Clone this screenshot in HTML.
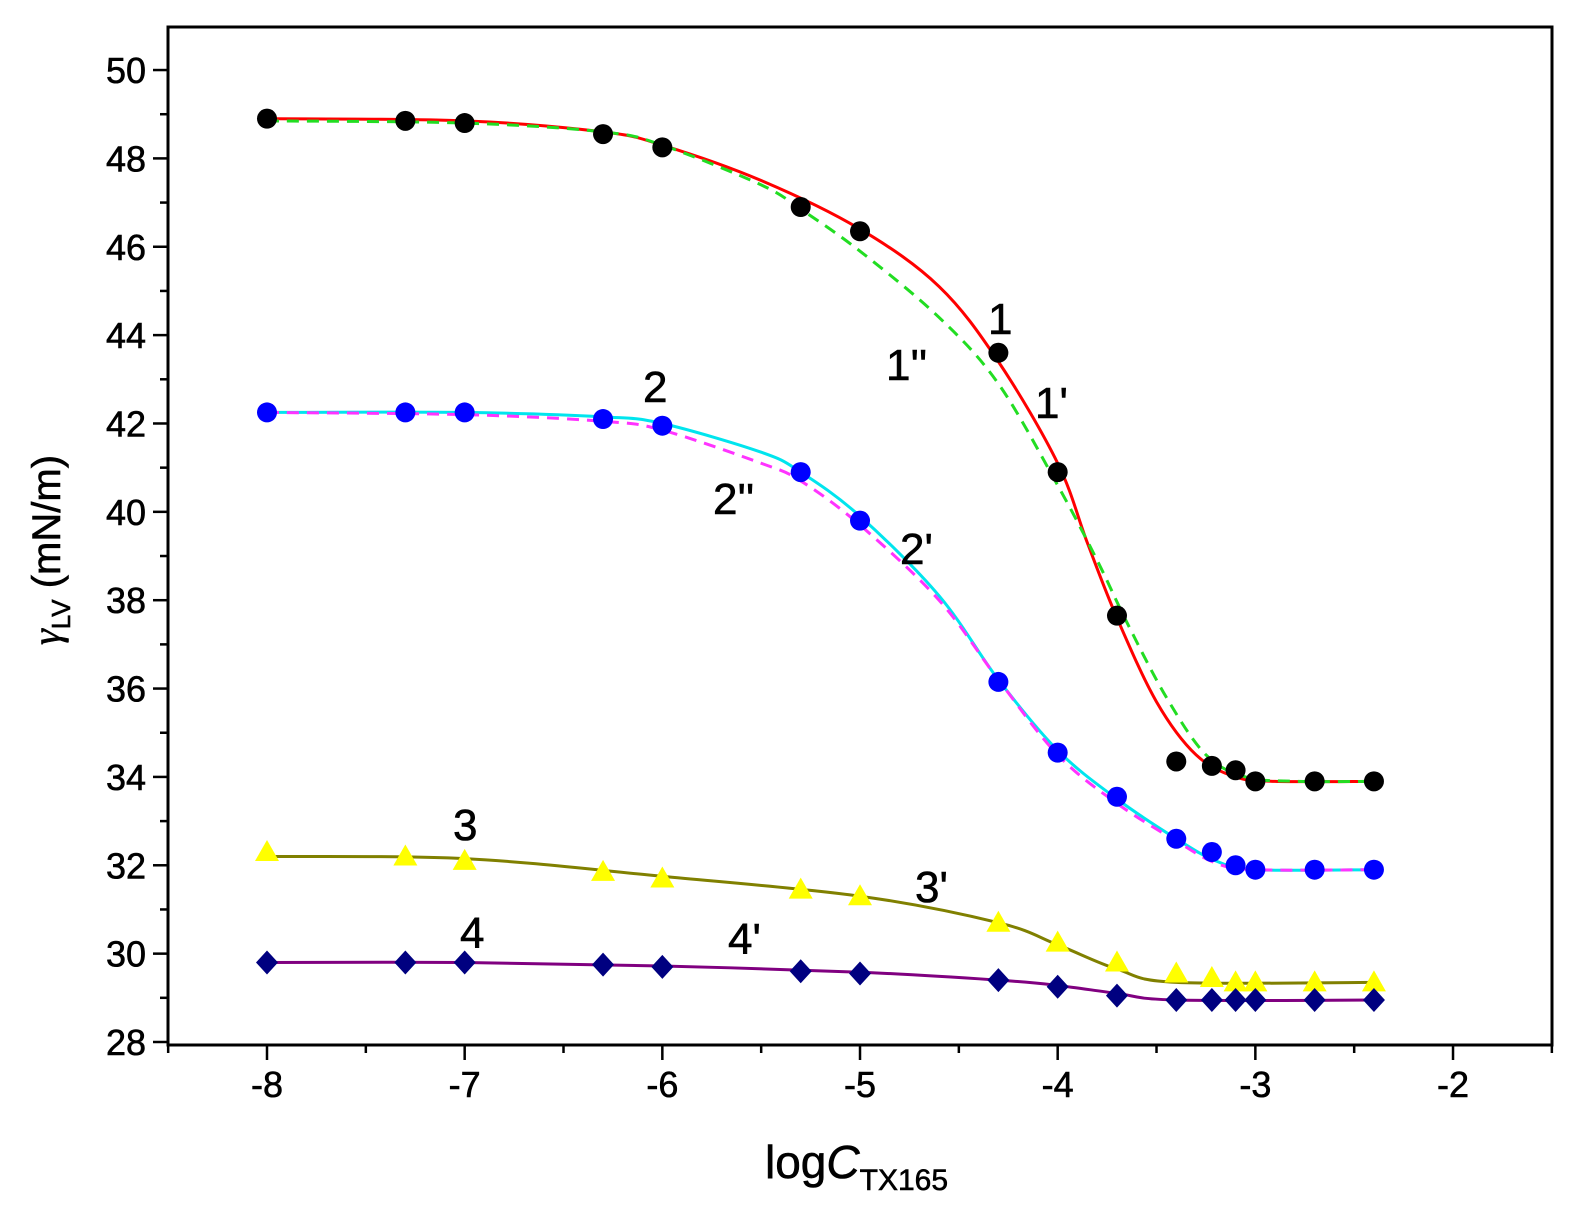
<!DOCTYPE html>
<html><head><meta charset="utf-8"><style>
body{margin:0;background:#fff;}
svg{display:block;font-family:"Liberation Sans",Arial,sans-serif;}
</style></head><body>
<svg id="s" width="1595" height="1230" xmlns="http://www.w3.org/2000/svg">
<rect x="0" y="0" width="1595" height="1230" fill="#fff"/>
<g id="curves"></g>
<g id="marks"></g>
<rect x="168" y="27" width="1384" height="1018" fill="none" stroke="#000" stroke-width="3"/>
<g id="ticks" stroke="#000" stroke-width="2.5"></g>
<g id="tl" font-size="36" fill="#000" stroke="#000" stroke-width="0.6"></g>
<g font-size="44" fill="#000" stroke="#000" stroke-width="0.6">
<text x="988" y="334">1</text>
<text x="886" y="380">1''</text>
<text x="1035" y="418">1'</text>
<text x="643" y="402">2</text>
<text x="713" y="514">2''</text>
<text x="900" y="564">2'</text>
<text x="453" y="840">3</text>
<text x="915" y="902">3'</text>
<text x="460" y="948">4</text>
<text x="728" y="954">4'</text>
</g>
<text x="765" y="1178" font-size="46" stroke="#000" stroke-width="0.6">log<tspan font-style="italic">C</tspan><tspan font-size="30" dy="12">TX165</tspan></text>
<g transform="translate(60,550) rotate(-90)"><text x="0" y="0" text-anchor="middle" font-size="40" stroke="#000" stroke-width="0.6"><tspan font-family="Liberation Serif" font-style="italic">γ</tspan><tspan font-size="26" dy="10">LV</tspan><tspan dy="-10"> (mN/m)</tspan></text></g>
</svg>
<script>
const NS="http://www.w3.org/2000/svg";
const X=v=>267+(v+8)*197.67, Y=v=>1042-(v-28)*44.18;
function el(t,a,p){const e=document.createElementNS(NS,t);for(const k in a)e.setAttribute(k,a[k]);p.appendChild(e);return e;}
const tk=document.getElementById('ticks'),tl=document.getElementById('tl');
for(let v=-8.5;v<=-1.5;v+=0.5){const x=X(v);const maj=Number.isInteger(v);el('line',{x1:x,y1:1045,x2:x,y2:maj?1060:1053},tk);
 if(maj){const t=el('text',{x:x,y:1097,'text-anchor':'middle'},tl);t.textContent=v;}}
for(let v=28;v<=50;v++){const y=Y(v);const maj=v%2==0;el('line',{x1:168,y1:y,x2:maj?153:160,y2:y},tk);
 if(maj){const t=el('text',{x:146,y:y+13,'text-anchor':'end'},tl);t.textContent=v;}}
function path(pts,col,dash){let d='';const P=pts.map(p=>[X(p[0]),Y(p[1])]);
 d='M'+P[0][0]+','+P[0][1];
 for(let i=0;i<P.length-1;i++){const p0=P[Math.max(0,i-1)],p1=P[i],p2=P[i+1],p3=P[Math.min(P.length-1,i+2)];
 d+=` C${p1[0]+(p2[0]-p0[0])/6},${p1[1]+(p2[1]-p0[1])/6} ${p2[0]-(p3[0]-p1[0])/6},${p2[1]-(p3[1]-p1[1])/6} ${p2[0]},${p2[1]}`;}
 const a={d:d,fill:'none',stroke:col,'stroke-width':3};if(dash)a['stroke-dasharray']='12,8';el('path',a,document.getElementById('curves'));}
path([[-8,48.9],[-7,48.85],[-6.3,48.6],[-6,48.3],[-5.5,47.5],[-5,46.4],[-4.6,45.1],[-4.3,43.4],[-4,41.1],[-3.85,39.3],[-3.7,37.6],[-3.5,35.7],[-3.3,34.5],[-3.1,34.0],[-2.9,33.9],[-2.4,33.9]],'#ff0000');
path([[-8,48.85],[-7,48.8],[-6.3,48.6],[-6,48.3],[-5.5,47.4],[-5.3,46.85],[-5,45.9],[-4.6,44.4],[-4.3,42.9],[-4,40.6],[-3.8,38.9],[-3.65,37.5],[-3.45,35.8],[-3.25,34.5],[-3.05,34.0],[-2.8,33.9],[-2.4,33.9]],'#22dd22',1);
path([[-8,42.25],[-7,42.25],[-6.3,42.15],[-6,42.0],[-5.5,41.35],[-5.3,40.9],[-5,39.9],[-4.6,38.1],[-4.3,36.2],[-4,34.6],[-3.7,33.5],[-3.4,32.6],[-3.2,32.1],[-3,31.9],[-2.4,31.9]],'#00e5ee');
path([[-8,42.25],[-7,42.2],[-6.3,42.05],[-6,41.85],[-5.5,41.1],[-5.3,40.7],[-5,39.7],[-4.6,38.0],[-4.3,36.2],[-4,34.5],[-3.7,33.4],[-3.4,32.55],[-3.2,32.05],[-3,31.9],[-2.4,31.9]],'#ff33ff',1);
path([[-8,32.2],[-7,32.15],[-6,31.75],[-5,31.3],[-4.3,30.7],[-4,30.2],[-3.7,29.65],[-3.4,29.35],[-2.4,29.35]],'#808000');
path([[-8,29.8],[-7,29.8],[-6,29.72],[-5,29.58],[-4.3,29.4],[-4,29.28],[-3.7,29.1],[-3.4,28.95],[-2.4,28.95]],'#800080');
const xs=[-8,-7.3,-7,-6.3,-6,-5.3,-5,-4.3,-4,-3.7,-3.4,-3.22,-3.1,-3,-2.7,-2.4];
const d1=[48.9,48.85,48.8,48.55,48.25,46.9,46.35,43.6,40.9,37.65,34.35,34.25,34.15,33.9,33.9,33.9];
const d2=[42.25,42.25,42.25,42.1,41.95,40.9,39.8,36.15,34.55,33.55,32.6,32.3,32.0,31.9,31.9,31.9];
const d3=[32.3,32.2,32.1,31.85,31.7,31.45,31.3,30.7,30.25,29.8,29.55,29.45,29.35,29.35,29.35,29.35];
const d4=[29.8,29.8,29.8,29.75,29.7,29.6,29.55,29.4,29.25,29.05,28.95,28.95,28.95,28.95,28.95,28.95];
const m=document.getElementById('marks');
xs.forEach((x,i)=>{const px=X(x);
 el('circle',{cx:px,cy:Y(d1[i]),r:10,fill:'#000'},m);
 el('circle',{cx:px,cy:Y(d2[i]),r:10,fill:'#0000ff'},m);
 let y=Y(d3[i]);el('polygon',{points:`${px},${y-12} ${px-12},${y+9} ${px+12},${y+9}`,fill:'#ffff00'},m);
 y=Y(d4[i]);el('polygon',{points:`${px},${y-12} ${px+11},${y} ${px},${y+12} ${px-11},${y}`,fill:'#000080'},m);});
</script>
</body></html>
